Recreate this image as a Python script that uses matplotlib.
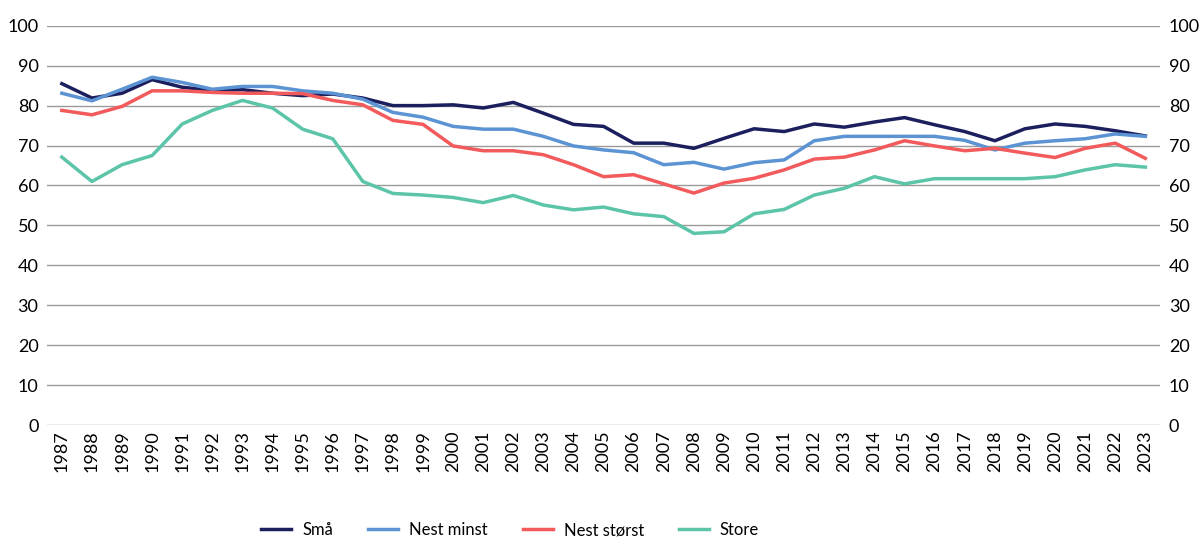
import matplotlib.pyplot as plt
import numpy as np

plt.rcParams['font.family'] = ['Lato', 'Open Sans', 'DejaVu Sans']

years = list(range(1987, 2024))

smaa = [85.5, 81.9, 83.1, 86.5, 84.6, 83.8, 84.0, 83.1, 82.5, 82.9, 81.9, 80.0, 80.0,
        80.2, 79.4, 80.8, 78.1, 75.3, 74.8, 70.6, 70.6, 69.3, 71.8, 74.2, 73.5,
        75.4, 74.6, 75.9, 77.0, 75.2, 73.5, 71.2, 74.2, 75.4, 74.8, 73.7, 72.4]
nest_minst = [83.1, 81.2, 84.1, 87.1, 85.8, 84.1, 84.8, 84.8, 83.7, 83.1, 81.6, 78.3, 77.1,
              74.8, 74.1, 74.1, 72.3, 69.9, 68.9, 68.2, 65.2, 65.8, 64.1, 65.7, 66.4,
              71.2, 72.3, 72.3, 72.3, 72.3, 71.3, 68.9, 70.6, 71.2, 71.7, 72.9, 72.3]
nest_storst = [78.8, 77.7, 79.8, 83.7, 83.7, 83.3, 83.1, 83.1, 83.0, 81.3, 80.2, 76.3, 75.3,
               69.9, 68.7, 68.7, 67.7, 65.2, 62.2, 62.7, 60.4, 58.1, 60.6, 61.8, 63.9,
               66.6, 67.1, 68.9, 71.2, 69.9, 68.7, 69.3, 68.1, 67.0, 69.3, 70.6, 66.8]
store = [67.1, 61.0, 65.2, 67.5, 75.4, 78.8, 81.3, 79.4, 74.1, 71.7, 61.0, 58.0, 57.6,
         57.0, 55.7, 57.5, 55.1, 53.9, 54.6, 52.9, 52.2, 48.0, 48.4, 52.9, 54.0,
         57.6, 59.3, 62.2, 60.4, 61.7, 61.7, 61.7, 61.7, 62.2, 63.9, 65.2, 64.6]

series = [("Små", smaa, "#1c1f5e"),
          ("Nest minst", nest_minst, "#5b93d3"),
          ("Nest størst", nest_storst, "#f25a5c"),
          ("Store", store, "#5cc5a9")]

fig = plt.figure(figsize=(12, 5.6), dpi=100)
ax = fig.add_axes([0.039, 0.241, 0.928, 0.713])

for name, vals, col in series:
    ax.plot(years, vals, color=col, lw=2.5, label=name, solid_joinstyle='round')

ax.set_xlim(1986.5, 2023.5)
ax.set_ylim(0, 100)
ax.set_yticks(range(0, 101, 10))
ax.set_xticks(years)
ax.set_xticklabels([str(y) for y in years], rotation=90, fontsize=13)
ax.grid(axis='y', color='#9a9a9a', lw=1)
ax.set_axisbelow(True)
for s in ax.spines.values():
    s.set_visible(False)
ax.tick_params(axis='both', length=0, labelsize=13)
ax.tick_params(axis='y', labelright=True, pad=6)
ax.tick_params(axis='x', pad=4)

# legend sits a bit left of centre in the original
fig.legend(loc='center', bbox_to_anchor=(0.425, 0.053), ncol=4, frameon=False,
           fontsize=12, handlelength=1.8, columnspacing=2.1, handletextpad=0.66)

fig.savefig("out.png", dpi=100)
